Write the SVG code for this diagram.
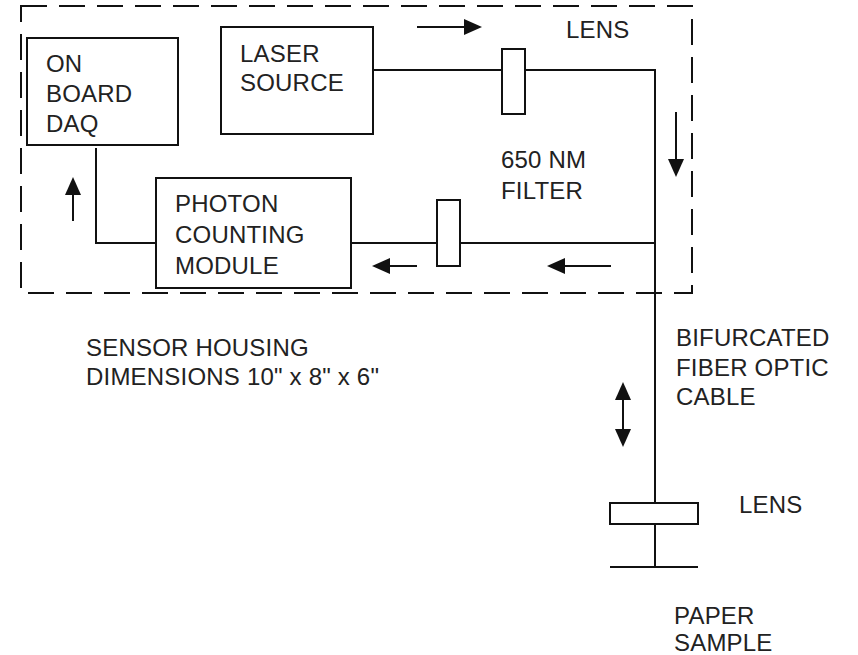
<svg xmlns="http://www.w3.org/2000/svg" width="858" height="655" viewBox="0 0 858 655">
<style>
.t{font-family:"Liberation Sans",Arial,sans-serif;font-size:24px;fill:#222;letter-spacing:0.2px}
.box{fill:none;stroke:#111;stroke-width:2}
.lens{fill:#fff;stroke:#111;stroke-width:2}
.ln{fill:none;stroke:#111;stroke-width:2}
.dash{fill:none;stroke:#111;stroke-width:2;stroke-dasharray:26 12}
.ar{fill:none;stroke:#111;stroke-width:2}
.hd{fill:#111}
</style>
<defs>
<path id="head" class="hd" d="M0,0 L-18,-8 L-18,8 Z"/>
</defs>
<rect width="858" height="655" fill="#fff"/>
<g id="housing">
<rect class="dash" x="21" y="6" width="671" height="287"/>
<text class="t" x="86" y="356">SENSOR HOUSING</text>
<text class="t" x="86" y="385">DIMENSIONS 10" x 8" x 6"</text>
</g>
<g id="connectors">
<polyline class="ln" points="373,70 502,70"/>
<polyline class="ln" points="525,70 655,70 655,567"/>
<polyline class="ln" points="351,243 437,243"/>
<polyline class="ln" points="460,243 655,243"/>
<polyline class="ln" points="96,148 96,243 156,243"/>
<line class="ar" x1="73" y1="221" x2="73" y2="190"/>
<use href="#head" transform="translate(73,177) rotate(-90)"/>
<line class="ar" x1="417" y1="27" x2="468" y2="27"/>
<use href="#head" transform="translate(482,27)"/>
<line class="ar" x1="676" y1="112" x2="676" y2="163"/>
<use href="#head" transform="translate(676,177) rotate(90)"/>
<line class="ar" x1="611" y1="266" x2="560" y2="266"/>
<use href="#head" transform="translate(547,266) rotate(180)"/>
<line class="ar" x1="417" y1="266" x2="386" y2="266"/>
<use href="#head" transform="translate(372,266) rotate(180)"/>
<line class="ar" x1="623" y1="395" x2="623" y2="434"/>
<use href="#head" transform="translate(623,382) rotate(-90)"/>
<use href="#head" transform="translate(623,447) rotate(90)"/>
</g>
<g id="daq">
<rect class="box" x="27" y="38" width="151" height="107"/>
<text class="t" x="46" y="72">ON</text>
<text class="t" x="46" y="102">BOARD</text>
<text class="t" x="46" y="132">DAQ</text>
</g>
<g id="laser">
<rect class="box" x="221" y="27" width="152" height="107"/>
<text class="t" x="240" y="62">LASER</text>
<text class="t" x="240" y="91">SOURCE</text>
</g>
<g id="photon">
<rect class="box" x="156" y="178" width="195" height="110"/>
<text class="t" x="175" y="212">PHOTON</text>
<text class="t" x="175" y="243">COUNTING</text>
<text class="t" x="175" y="274">MODULE</text>
</g>
<g id="lens-top">
<rect class="lens" x="502" y="49" width="23" height="65"/>
<text class="t" x="566" y="38">LENS</text>
</g>
<g id="filter">
<rect class="lens" x="437" y="200" width="23" height="66"/>
<text class="t" x="501" y="168">650 NM</text>
<text class="t" x="501" y="199">FILTER</text>
</g>
<g id="cable">
<text class="t" x="676" y="346">BIFURCATED</text>
<text class="t" x="676" y="376">FIBER OPTIC</text>
<text class="t" x="676" y="405">CABLE</text>
</g>
<g id="lens-bottom">
<rect class="lens" x="610" y="503" width="88" height="21"/>
<text class="t" x="739" y="513">LENS</text>
</g>
<g id="paper">
<line class="ln" x1="610" y1="567" x2="698" y2="567"/>
<text class="t" x="674" y="624">PAPER</text>
<text class="t" x="674" y="651">SAMPLE</text>
</g>
</svg>
